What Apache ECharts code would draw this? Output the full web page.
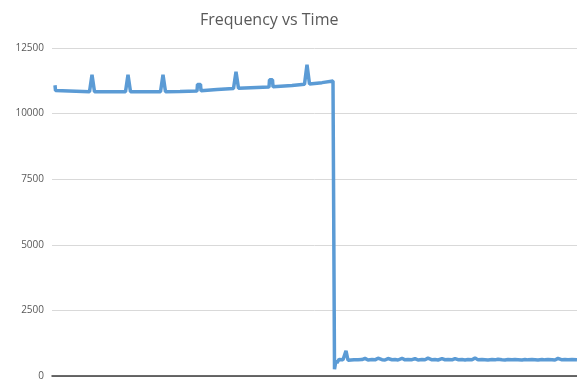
<!DOCTYPE html>
<html>
<head>
<meta charset="utf-8">
<script src="https://cdn.jsdelivr.net/npm/echarts@6/dist/echarts.min.js"></script>
<style>html,body{margin:0;padding:0;background:#fff;}#c{width:577px;height:381px;}</style>
</head>
<body>
<div id="c"></div>
<script>
const chartTitle = "Frequency vs Time";
const yTicks = [0, 2500, 5000, 7500, 10000, 12500];
// time (arbitrary units) and frequency values
const times = [
  3, 3.5, 5, 37.5, 40, 42.5, 73.5, 76, 78.5, 108.5, 111, 113.5, 128,
  145, 145.5, 148.5, 149, 165, 181.5, 184, 186.5,
  217, 217.5, 220.5, 221, 240, 252.5, 255, 257.5, 270, 281,
  282, 282.5, 284, 285, 287, 289, 291, 293, 294, 296, 298,
  302, 304, 306, 310, 313, 316, 320, 323, 326, 330, 333, 336, 340, 343, 346,
  350, 353, 356, 360, 363, 366, 370, 373, 376, 380, 383, 386, 390, 393, 396,
  400, 403, 406, 410, 413, 416, 420, 423, 426, 430, 433, 436, 440, 443, 446,
  450, 453, 456, 460, 463, 466, 470, 473, 476, 480, 483, 486, 490, 493, 496,
  500, 503, 506, 510, 513, 516, 520, 525
];
const frequency = [
  11080, 10880, 10830, 10830, 11480, 10830, 10830, 11480, 10830, 10830, 11480, 10830, 10840,
  10860, 11110, 11110, 10870, 10920, 10960, 11590, 10970,
  11010, 11290, 11290, 11020, 11070, 11120, 11860, 11130, 11180, 11240,
  11250, 260, 600, 500, 630, 590, 620, 615, 960, 600, 630,
  615, 680, 615, 625, 670, 610, 625, 615, 680, 620, 610, 665, 620, 630, 610,
  675, 615, 625, 620, 665, 610, 630, 620, 680, 615, 625, 610, 660, 620, 630,
  615, 665, 620, 625, 610, 630, 620, 690, 615, 630, 620, 610, 625, 615, 640,
  620, 610, 630, 615, 625, 620, 610, 630, 615, 625, 620, 610, 630, 615, 625,
  620, 610, 670, 615, 625, 620, 630, 620
];

const data = times.map((t, i) => [t, frequency[i]]);
const chart = echarts.init(document.getElementById('c'), null, {renderer: 'canvas'});
chart.setOption({
  animation: false,
  backgroundColor: '#ffffff',
  title: {
    text: chartTitle,
    left: 195,
    top: 7,
    textStyle: {fontFamily: 'Open Sans', fontSize: 16, fontWeight: 'normal', color: '#595959'}
  },
  grid: {left: 52, right: 0, top: 48, bottom: 3, containLabel: false},
  xAxis: {
    type: 'value', min: 0, max: 525,
    axisLine: {show: true, onZero: false, lineStyle: {color: '#3a3a3a', width: 1.5}},
    axisTick: {show: false}, axisLabel: {show: false}, splitLine: {show: false}
  },
  yAxis: {
    type: 'value', min: yTicks[0], max: yTicks[yTicks.length - 1], interval: 2500,
    axisLine: {show: false}, axisTick: {show: false},
    axisLabel: {margin: 8, fontFamily: 'Open Sans', fontSize: 10, color: '#595959',
      formatter: v => String(v)},
    splitLine: {lineStyle: {color: '#d9d9d9', width: 1}}
  },
  series: [{
    type: 'line', data: data, showSymbol: false, smooth: false,
    lineStyle: {color: '#5b9bd5', width: 3.5, join: 'bevel'},
    itemStyle: {color: '#5b9bd5'}
  }]
});
</script>
</body>
</html>
